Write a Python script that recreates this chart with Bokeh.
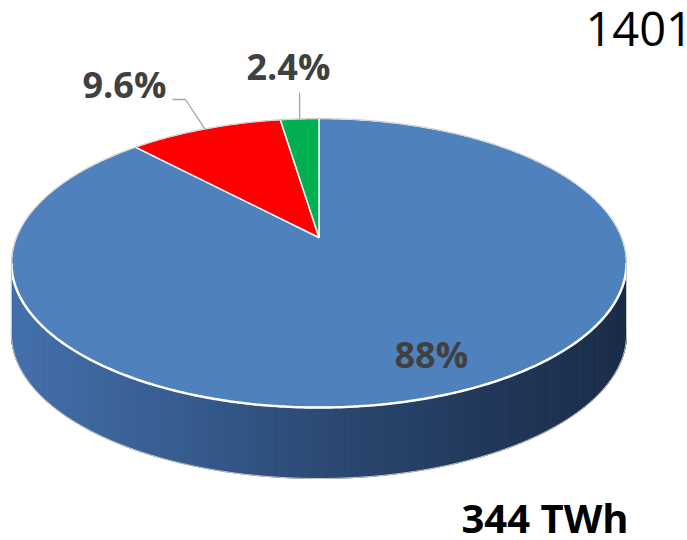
import numpy as np
from bokeh.plotting import figure
from bokeh.models import Range1d
from bokeh.core.properties import value
from bokeh.embed import file_html
from bokeh.resources import INLINE

# ---- data ----
categories = ["A", "B", "C"]
shares = [88.0, 9.6, 2.4]
slice_colors = ["#4F81BD", "#FF0000", "#00B050"]
year_label = "1401"
total_label = "344 TWh"

# ---- layout / style ----
W, H = 687, 540
CX, CY, R, K, A, DEPTH = 318.5, 237.0, 302.7, 140.0, 0.1765, 71.0

p = figure(width=W, height=H, output_backend="svg", toolbar_location=None,
           x_range=Range1d(0, W), y_range=Range1d(H, 0), min_border=0)
p.axis.visible = False
p.grid.visible = False
p.outline_line_color = None
p.background_fill_color = "white"
p.border_fill_color = "white"


def proj(theta_deg):
    t = np.radians(np.asarray(theta_deg, dtype=float))
    u, v = np.sin(t), np.cos(t)
    s = 1.0 / (1.0 + A * v)
    return CX + R * u * s, CY - K * v * s


# extremes of the top ellipse
th_all = np.linspace(0, 360, 7201)
xa, ya = proj(th_all)
th_r = th_all[np.argmax(xa)]
th_l = th_all[np.argmin(xa)]
xmin, xmax = xa.min(), xa.max()

# ---- side (front) with horizontal gradient ----
stops_f = [0.0, 0.25, 0.5, 0.75, 1.0]
stops_c = np.array([[68, 112, 172], [56, 94, 146], [44, 74, 116], [34, 57, 92], [27, 44, 72]], dtype=float)
front = np.linspace(th_r, th_l, 241)
fx, fy = proj(front)
sx, sy, sc = [], [], []
for i in range(len(front) - 1):
    x0, x1 = fx[i], fx[i + 1]
    y0, y1 = fy[i], fy[i + 1]
    sx.append([x0, x1, x1, x0])
    sy.append([y0, y1, y1 + DEPTH, y0 + DEPTH])
    f = ((x0 + x1) / 2 - xmin) / (xmax - xmin)
    c = [np.interp(f, stops_f, stops_c[:, k]) for k in range(3)]
    sc.append("#%02x%02x%02x" % tuple(int(round(v)) for v in c))
p.patches(sx, sy, fill_color=sc, line_color=sc, line_width=1)

# ---- top face wedges (clockwise from 12 o'clock) ----
total = sum(shares)
bounds = np.concatenate([[0], np.cumsum(shares) / total * 360.0])
wx, wy = [], []
for i in range(len(shares)):
    th = np.linspace(bounds[i], bounds[i + 1], max(3, int((bounds[i + 1] - bounds[i]) * 2)))
    ax_, ay_ = proj(th)
    wx.append([CX] + list(ax_))
    wy.append([CY] + list(ay_))
p.patches(wx, wy, fill_color=slice_colors, line_color="white", line_width=1.5)

# front white edge of top
p.line(fx, fy, line_color="white", line_width=2.5)

# silhouette outline: back arc (left -> top -> right), down, bottom arc (right -> left), up
back = np.linspace(th_l, th_r + 360, 400)
bx, by = proj(back)
ox = list(bx) + list(fx)
oy = list(by) + list(fy + DEPTH)
ox.append(ox[0]); oy.append(oy[0])
p.line(ox, oy, line_color="#c8c8c8", line_width=1)

# ---- labels ----
pct_labels = [f"{s:g}%" for s in shares]
mids = (bounds[:-1] + bounds[1:]) / 2
mx, my = proj(mids)

# leader lines for the small slices
p.line([172, 185, mx[1]], [99, 99, my[1]], line_color="#a6a6a6", line_width=1.3)
p.line([mx[2], mx[2]], [92, my[2]], line_color="#a6a6a6", line_width=1.3)

label_x = [394, 82, 246]
label_y = [354, 84, 66]
p.text(x=label_x, y=label_y, text=pct_labels, text_font=value("Open Sans"),
       text_font_style="bold", text_font_size="36px", text_color="#404040",
       text_baseline="alphabetic", text_align="left")

p.text(x=[585], y=[28], text=[year_label], text_font=value("Open Sans"),
       text_font_size="47px", text_color="#000000",
       text_baseline="alphabetic", text_align="left")
p.text(x=[461], y=[517], text=[total_label], text_font=value("Open Sans"),
       text_font_style="bold", text_font_size="40px", text_color="#000000",
       text_baseline="alphabetic", text_align="left")

open("out.html", "w").write(file_html(p, INLINE))
